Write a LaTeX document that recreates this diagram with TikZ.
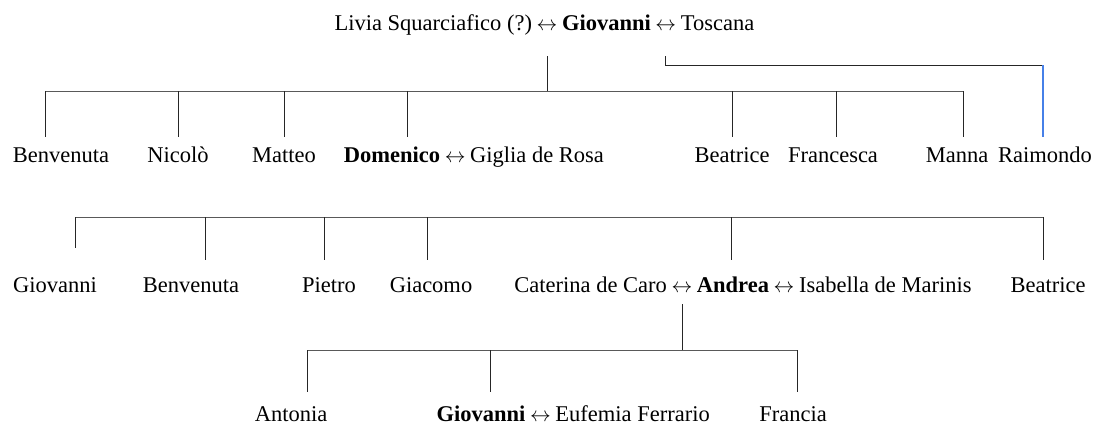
\documentclass[tikz,border=0pt]{standalone}
\usepackage{fontspec}
\setmainfont{Liberation Serif}
\usepackage{tikz}
\usetikzlibrary{positioning}
\definecolor{raimblue}{RGB}{70,128,232}

\begin{document}
\begin{tikzpicture}
    [x=1pt, y=-1pt,
     font=\fontsize{22.5}{26}\selectfont,
     person/.style={inner xsep=.125em, inner ysep=10pt,
                    text height=15pt, text depth=5pt},
     wed/.style={person, inner xsep=.3em, inner ysep=7pt},
     link/.style={black!85, line width=.8pt},
     bar/.style={black!65, line width=.8pt},
    ]
    \useasboundingbox (0,0) rectangle (1096,426);

    % Giovanni and his two wives
    \node[wed, anchor=base] (w1) at (547,30) {$\leftrightarrow$};
    \node[person, left=0pt of w1] (livia) {Livia Squarciafico (?)};
    \node[person, right=0pt of w1] (giov) {\textbf{Giovanni}};
    \node[wed, right=0pt of giov] (w2) {$\leftrightarrow$};
    \node[person, right=0pt of w2] (tosc) {Toscana};

    % Second generation
    \foreach \nm / \x / \txt in
             {benv/61/Benvenuta, nico/178/Nicolò, matt/284/Matteo,
              bea/732/Beatrice, fran/833/Francesca, manna/957/Manna,
              raim/1045/Raimondo} {
        \node[person, anchor=base] (\nm) at (\x,162) {\txt};
    }
    \node[person, anchor=base] (dom) at (392,162) {\textbf{Domenico}};
    \node[wed, right=0pt of dom] (w3) {$\leftrightarrow$};
    \node[person, right=0pt of w3] (giglia) {Giglia de Rosa};

    % Third generation
    \foreach \nm / \x / \txt in
             {giov2/55/Giovanni, benv2/191/Benvenuta, piet/329/Pietro,
              giac/431/Giacomo, bea2/1048/Beatrice} {
        \node[person, anchor=base] (\nm) at (\x,292) {\txt};
    }
    \node[person, anchor=base] (andrea) at (733,292) {\textbf{Andrea}};
    \node[wed, left=0pt of andrea] (w4) {$\leftrightarrow$};
    \node[person, left=0pt of w4] (cat) {Caterina de Caro};
    \node[wed, right=0pt of andrea] (w5) {$\leftrightarrow$};
    \node[person, right=0pt of w5] (isab) {Isabella de Marinis};

    % Fourth generation
    \node[person, anchor=base] (anton) at (291,421) {Antonia};
    \node[person, anchor=base] (fran2) at (793,421) {Francia};
    \node[person, anchor=base] (giov3) at (481,421) {\textbf{Giovanni}};
    \node[wed, right=0pt of giov3] (w6) {$\leftrightarrow$};
    \node[person, right=0pt of w6] (eufe) {Eufemia Ferrario};

    % Bar heights
    \coordinate (kink) at (0,65);
    \coordinate (bar1) at (0,91);
    \coordinate (bar2) at (0,217);
    \coordinate (bar3) at (0,350);

    % Children of Livia
    \draw[link, shorten <=14pt] (w1.south) -- (w1.south |- bar1);
    \draw[bar] ([xshift=-16pt]benv.north |- bar1)
        -- ([xshift=6pt]manna.north |- bar1);
    \foreach \nm / \dx in {benv/-16, nico/0, matt/0, dom/15,
                           bea/0, fran/3, manna/6} {
        \draw[link] ([xshift=\dx pt]\nm.north |- bar1)
            -- ([xshift=\dx pt]\nm.north);
    }

    % Son of Toscana
    \draw[link, shorten <=14pt] (w2.south) -- (w2.south |- kink)
        -- ([xshift=-2pt]raim.north |- kink);
    \draw[raimblue, line width=1.1pt] ([xshift=-2pt]raim.north |- kink)
        -- ([xshift=-2pt]raim.north);

    % Children of Domenico
    \draw[bar] ([xshift=20pt]giov2.north |- bar2)
        -- ([xshift=-5pt]bea2.north |- bar2);
    \foreach \nm / \dx / \sh in {giov2/20/19, benv2/14/7, piet/-5/7,
                                 giac/-4/7, andrea/-2/7, bea2/-5/7} {
        \draw[link, shorten >=\sh pt] ([xshift=\dx pt]\nm.north |- bar2)
            -- ([xshift=\dx pt]\nm.north);
    }

    % Children of Andrea
    \draw[link] (w4.south) -- (w4.south |- bar3);
    \draw[bar] ([xshift=16pt]anton.north |- bar3)
        -- ([xshift=4pt]fran2.north |- bar3);
    \foreach \nm / \dx in {anton/16, giov3/9, fran2/4} {
        \draw[link, shorten >=4pt] ([xshift=\dx pt]\nm.north |- bar3)
            -- ([xshift=\dx pt]\nm.north);
    }
\end{tikzpicture}
\end{document}
